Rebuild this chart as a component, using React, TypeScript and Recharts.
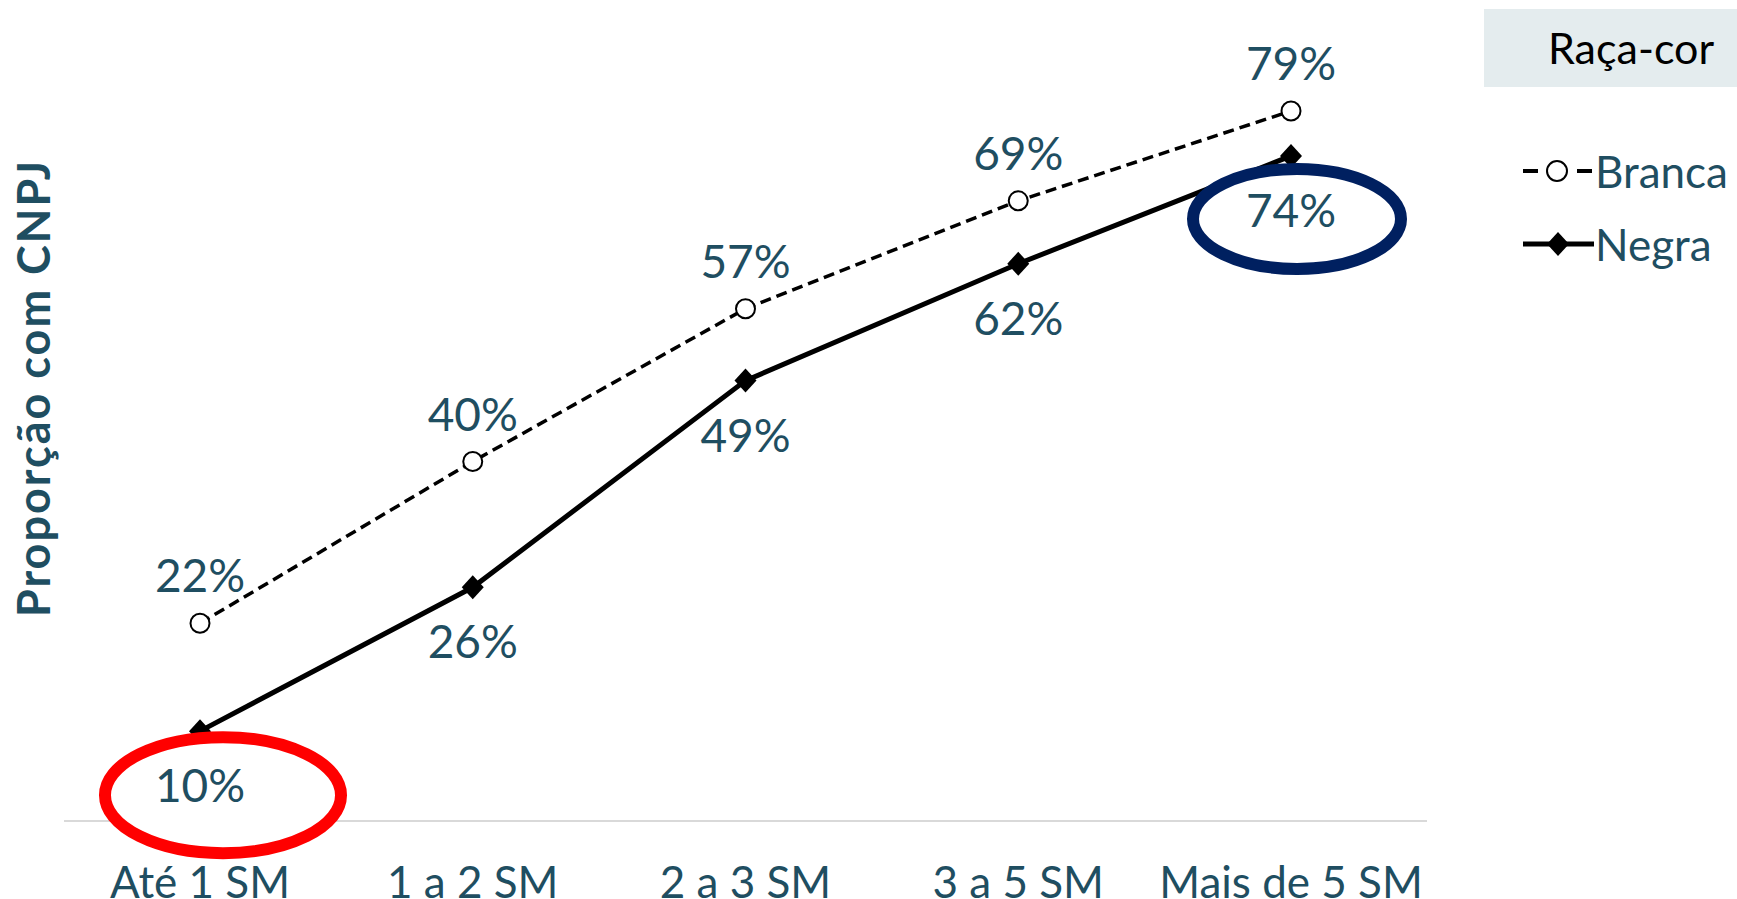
import React from 'react';
import { LineChart, Line, XAxis, YAxis, LabelList } from 'recharts';

const categories = ['Até 1 SM', '1 a 2 SM', '2 a 3 SM', '3 a 5 SM', 'Mais de 5 SM'];
const branca = [0.22, 0.4, 0.57, 0.69, 0.79];
const negra = [0.1, 0.26, 0.49, 0.62, 0.74];
const seriesNames = ['Branca', 'Negra'];
const legendTitle = 'Raça-cor';
const yTitle = 'Proporção com CNPJ';

const data = categories.map((name, i) => ({ name, Branca: branca[i], Negra: negra[i] }));

const TEAL = '#1F4E61';
const FONT = 'Lato, "Liberation Sans", sans-serif';
const pct = (v: number) => Math.round(v * 100) + '%';

const BrancaDot = (p: any) => {
  if (p.cx == null || p.cy == null) return null;
  return <circle key={'bd' + p.index} cx={p.cx} cy={p.cy} r={9.5} fill='#fff' stroke='#000' strokeWidth={2} />;
};

const NegraDot = (p: any) => {
  if (p.cx == null || p.cy == null) return null;
  const { cx, cy } = p;
  return (
    <polygon
      key={'nd' + p.index}
      points={`${cx},${cy - 12} ${cx + 11},${cy} ${cx},${cy + 12} ${cx - 11},${cy}`}
      fill='#000'
    />
  );
};

const BrancaLabel = (p: any) => {
  const x = p.viewBox?.x ?? p.x;
  const y = p.viewBox?.y ?? p.y;
  return (
    <text x={x} y={y - 31} textAnchor='middle' fontSize={46} fill={TEAL} fontFamily={FONT}>
      {pct(p.value)}
    </text>
  );
};

// labels below the Negra points; first and last ones are circled
const NegraLabel = (p: any) => {
  const x = p.viewBox?.x ?? p.x;
  const y = p.viewBox?.y ?? p.y;
  let ring = null;
  if (p.index === 0) {
    ring = <ellipse cx={x + 23} cy={y + 64} rx={118} ry={58} fill='#fff' stroke='#FF0000' strokeWidth={12} />;
  } else if (p.index === negra.length - 1) {
    ring = <ellipse cx={x + 6} cy={y + 63} rx={104} ry={50} fill='#fff' stroke='#002060' strokeWidth={12} />;
  }
  return (
    <g>
      {ring}
      <text x={x} y={y + 71} textAnchor='middle' fontSize={46} fill={TEAL} fontFamily={FONT}>
        {pct(p.value)}
      </text>
    </g>
  );
};

const XTick = (p: any) => (
  <text x={p.x} y={p.y + 75} textAnchor='middle' fontSize={44} fill={TEAL} fontFamily={FONT}>
    {p.payload.value}
  </text>
);

const YTitle = () => (
  <text
    x={33}
    y={388}
    transform='rotate(-90 33 388)'
    textAnchor='middle'
    dominantBaseline='central'
    fontSize={45}
    letterSpacing={2}
    fontWeight='bold'
    fill={TEAL}
    fontFamily={FONT}
  >
    {yTitle}
  </text>
);

const LegendIcon = ({ name }: { name: string }) =>
  name === 'Branca' ? (
    <svg width={72} height={30}>
      <line x1={0} y1={15} x2={15} y2={15} stroke='#000' strokeWidth={4} />
      <line x1={54} y1={15} x2={69} y2={15} stroke='#000' strokeWidth={4} />
      <circle cx={34} cy={15} r={10} fill='#fff' stroke='#000' strokeWidth={2} />
    </svg>
  ) : (
    <svg width={72} height={30}>
      <line x1={0} y1={15} x2={71} y2={15} stroke='#000' strokeWidth={5} />
      <polygon points='35,3 46,15 35,27 24,15' fill='#000' />
    </svg>
  );

const LegendBox = () => (
  <div style={{ position: 'absolute', left: 1484, top: 9, width: 253, height: 280, fontFamily: FONT }}>
    <div
      style={{
        background: '#E4ECEE',
        height: 78,
        lineHeight: '78px',
        paddingLeft: 64,
        fontSize: 43,
        color: '#000',
        boxSizing: 'border-box',
      }}
    >
      {legendTitle}
    </div>
    {seriesNames.map((name, i) => (
      <div
        key={name}
        style={{
          position: 'absolute',
          left: 39,
          top: 137 + i * 73,
          height: 50,
          display: 'flex',
          alignItems: 'center',
          fontSize: 44,
          color: TEAL,
          whiteSpace: 'nowrap',
        }}
      >
        <LegendIcon name={name} />
        <span>{name}</span>
      </div>
    ))}
  </div>
);

export default function App() {
  return (
    <div style={{ position: 'relative', width: 1737, height: 899 }}>
      <style>{'body{margin:0;overflow:hidden}'}</style>
      <LineChart width={1737} height={899} data={data} margin={{ top: 102, right: 310, bottom: 0, left: 0 }}>
        <XAxis
          dataKey='name'
          height={78}
          padding={{ left: 136, right: 136 }}
          axisLine={{ stroke: '#D9D9D9', strokeWidth: 2 }}
          tickLine={false}
          tickSize={0}
          interval={0}
          tick={<XTick />}
        />
        <YAxis domain={[0, 0.8]} width={64} axisLine={false} tickLine={false} tick={false} label={<YTitle />} />
        <Line
          dataKey='Branca'
          stroke='#000'
          strokeWidth={3.5}
          strokeDasharray='11 6'
          dot={BrancaDot}
          activeDot={false}
          isAnimationActive={false}
        >
          <LabelList dataKey='Branca' content={BrancaLabel} />
        </Line>
        <Line
          dataKey='Negra'
          stroke='#000'
          strokeWidth={5}
          dot={NegraDot}
          activeDot={false}
          isAnimationActive={false}
        >
          <LabelList dataKey='Negra' content={NegraLabel} />
        </Line>
      </LineChart>
      <LegendBox />
    </div>
  );
}
